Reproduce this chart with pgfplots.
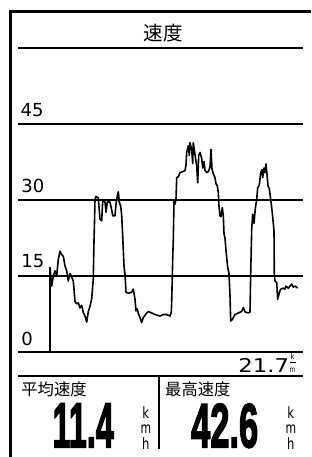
\documentclass[border=0pt]{standalone}
\usepackage{pgfplots}
\pgfplotsset{compat=1.18}
\usepackage{fontspec}
\setmainfont{DejaVu Sans}
\newfontfamily\cjk{Noto Sans CJK JP}
\newfontfamily\bigdig[FakeBold=3]{Liberation Sans Bold}
\begin{document}
\begin{tikzpicture}
\useasboundingbox (0,0) rectangle (311pt,457pt);
% frame
\draw[line width=3pt, line join=miter] (311pt,445.5pt) -- (10pt,445.5pt) -- (10pt,0pt);
% title
\node[anchor=base, inner sep=0pt] at (163pt,416.4pt) {\cjk\fontsize{19.5pt}{20pt}\selectfont 速度};
\begin{axis}[
  at={(18.3pt,105pt)}, anchor=south west,
  scale only axis, width=285pt, height=304pt,
  xmin=18.3, xmax=303.3, ymin=0, ymax=60,
  axis line style={draw=none},
  xtick=\empty, ytick={0,15,30,45,60}, yticklabels={},
  major tick length=0pt,
  ymajorgrids, grid style={black, line width=2pt},
  clip=false,
]
\addplot[black, line width=1.6pt, line join=round, mark=none] coordinates {
(50,0) (50,16.7) (51.7,13) (53.3,15) (55,16) (56.7,15) (58.3,18.3) (60,19.9) (61.7,19.2) (63.3,18.9) (65,17) (66.7,16) (68.3,14) (70,15.5) (71.7,14.8) (73.3,14) (75,10) (76.7,9.5) (78.3,9.7) (80,8.7) (81.7,9.2) (83.3,7.8) (85,7.1) (86.7,5.9) (88.3,8) (90,9) (91.7,10.5) (93.3,14.5) (94,22) (94.5,25.6) (95,30.1) (96,30.7) (98.3,30.4) (100,26.2) (101.7,25.9) (102.7,29.8) (105,29.6) (106,27.6) (107.3,29.6) (110,29.6) (111.7,28) (112.7,26.9) (115,26.9) (116,29.2) (117.3,30.8) (118.3,31.6) (119.3,29.6) (120.7,28.8) (121.7,26.9) (122.7,22.9) (124,17) (125,15.3) (126,11.8) (128.3,11.6) (131.7,11.8) (133.3,12.4) (135,10.4) (136,8.1) (137.3,8.5) (138.3,7.6) (140,6.8) (141.7,5.8) (143.3,6.8) (146.7,7.7) (148.3,8) (151.7,7.7) (155,7.4) (160,7.1) (163.3,7.4) (166.7,7.4) (170,7.1) (171.3,7.9) (171.7,10) (172.7,18.3) (173.3,22.2) (174,29.8) (175,29.2) (176,30.1) (176.7,34.4) (178.3,34.6) (180,35.4) (182.7,35.6) (185,35.8) (186,36.9) (186.7,39.4) (188.3,40.7) (189.3,38.8) (190,41.3) (191.7,39.9) (192.7,37.2) (193.3,41.3) (195,39) (196.7,36.7) (197.7,33.4) (198.7,38.8) (200,39.4) (201.7,38.2) (202.7,36.3) (204,37.6) (205,35.9) (206.7,35.4) (208.3,35.6) (210,36.5) (211,40) (212,36.1) (213.3,35.2) (215,34.4) (216,33.2) (217.3,32.8) (218.3,31.5) (219,28.8) (220,26.9) (221,26.7) (222.3,28.5) (223.3,26.9) (224,23.3) (225,22.5) (226,20) (227.7,16.7) (229,15.5) (230,11.1) (230.7,6.1) (232.3,6.4) (235,7.4) (238.3,7.7) (241.7,8) (243.3,8.8) (245,7.9) (248.3,7.7) (250,7.9) (250.7,15.6) (251.7,24.2) (252.7,27.2) (254,25.4) (255.3,28.3) (256.7,30.1) (257.7,32.4) (259.3,33) (260.7,35.4) (262,36) (262.7,34.4) (264,36.3) (265,35.4) (266,37.1) (267,35.1) (268,32.8) (269.3,32.2) (270.7,30.1) (271.7,28.5) (272.7,26.6) (274,23.9) (274.3,15.3) (275,14) (276.7,13.7) (277.7,10.4) (279.3,11.7) (280.7,12.4) (283.3,12.6) (285,12.4) (286,13) (288.3,12.6) (290,13) (291.7,13.4) (293.3,12.8) (295,13) (296.7,12.8) (297.7,12.6)
};
\node[anchor=base west, inner sep=0pt, font=\fontsize{18pt}{18pt}\selectfont] at (axis cs:20.5,45) [yshift=7pt] {45};
\node[anchor=base west, inner sep=0pt, font=\fontsize{18pt}{18pt}\selectfont] at (axis cs:21.3,30) [yshift=7pt] {30};
\node[anchor=base west, inner sep=0pt, font=\fontsize{18pt}{18pt}\selectfont] at (axis cs:21.3,15) [yshift=8pt] {15};
\node[anchor=base west, inner sep=0pt, font=\fontsize{18pt}{18pt}\selectfont] at (axis cs:21.3,0) [yshift=6.2pt] {0};
\end{axis}
% bottom area
\draw[line width=2pt] (18.3pt,81pt) -- (303.3pt,81pt);
\draw[line width=2.2pt] (159.3pt,80pt) -- (159.3pt,8pt);
\node[anchor=base east, inner sep=0pt] at (289.3pt,84.7pt) {\scalebox{1.2}[1]{\fontsize{19pt}{19pt}\selectfont 21.7}};
\node[anchor=base, inner sep=0pt] at (292.6pt,97pt) {\scalebox{0.85}[1]{\fontsize{8pt}{8pt}\selectfont k}};
\draw[line width=0.8pt] (289.6pt,94.3pt) -- (295.8pt,94.3pt);
\node[anchor=base, inner sep=0pt] at (292.6pt,84.3pt) {\scalebox{0.75}[1]{\fontsize{8pt}{8pt}\selectfont m}};
% labels
\node[anchor=base west, inner sep=0pt] at (21.2pt,61.8pt) {\cjk\fontsize{16.3pt}{17pt}\selectfont 平均速度};
\node[anchor=base west, inner sep=0pt] at (165pt,61.8pt) {\cjk\fontsize{16.3pt}{17pt}\selectfont 最高速度};
% big numbers
\node[anchor=base west, inner sep=0pt] at (52.5pt,9.8pt) {\resizebox{61pt}{43.5pt}{\bigdig 11.4}};
\node[anchor=base west, inner sep=0pt] at (191pt,9.8pt) {\resizebox{67pt}{43.5pt}{\bigdig 42.6}};
% units
\foreach \xx in {145.8,290.8}{
  \node[anchor=base, inner sep=0pt] at (\xx pt,38.7pt) {\scalebox{0.75}[1]{\fontsize{15.5pt}{15pt}\selectfont k}};
  \node[anchor=base, inner sep=0pt] at (\xx pt,23.7pt) {\scalebox{0.7}[1]{\fontsize{15.5pt}{15pt}\selectfont m}};
  \node[anchor=base, inner sep=0pt] at (\xx pt,7pt) {\scalebox{0.75}[1]{\fontsize{15.5pt}{15pt}\selectfont h}};
}
\end{tikzpicture}
\end{document}
